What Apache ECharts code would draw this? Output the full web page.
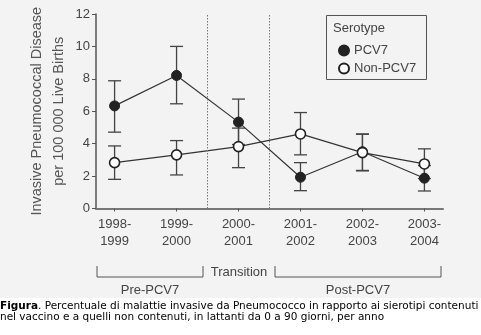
<!DOCTYPE html>
<html><head><meta charset="utf-8">
<script src="https://cdn.jsdelivr.net/npm/echarts@6/dist/echarts.min.js"></script>
<style>html,body{margin:0;padding:0;background:#f3f3f3}#c{width:481px;height:335px}</style>
</head><body><div id="c"></div>
<script>
// ---- data ----
const categories = ['1998-\n1999','1999-\n2000','2000-\n2001','2001-\n2002','2002-\n2003','2003-\n2004'];
const pcv7      = [6.33, 8.21, 5.33, 1.93, 3.50, 1.87];
const pcv7Low   = [4.71, 6.46, 3.95, 1.10, 2.35, 1.08];
const pcv7High  = [7.88, 10.0, 6.75, 2.83, 4.60, 2.65];
const nonPcv7     = [2.83, 3.31, 3.82, 4.60, 3.45, 2.75];
const nonPcv7Low  = [1.80, 2.07, 2.52, 3.31, 2.32, 1.85];
const nonPcv7High = [3.86, 4.19, 4.96, 5.92, 4.58, 3.68];
const yTicks = [0, 2, 4, 6, 8, 10, 12];
const phaseBoundaries = [1.5, 2.5];
const seriesNames = ['PCV7', 'Non-PCV7'];

const idx = categories.map((_, i) => i);
const pts = arr => arr.map((v, i) => [i, v]);
const bars = (lo, hi) => lo.map((v, i) => [i, v, hi[i]]);

function errRender(params, api) {
  const x = api.value(0), lo = api.value(1), hi = api.value(2);
  const a = api.coord([x, lo]), b = api.coord([x, hi]);
  const hw = 6.5;
  const st = {stroke: '#444', lineWidth: 1.3};
  return {type: 'group', children: [
    {type: 'line', shape: {x1: a[0], y1: a[1], x2: b[0], y2: b[1]}, style: st},
    {type: 'line', shape: {x1: a[0]-hw, y1: a[1], x2: a[0]+hw, y2: a[1]}, style: st},
    {type: 'line', shape: {x1: b[0]-hw, y1: b[1], x2: b[0]+hw, y2: b[1]}, style: st}
  ]};
}

const FONT = 'Liberation Sans';
const chart = echarts.init(document.getElementById('c'), null, {renderer: 'canvas'});
chart.setOption({
  backgroundColor: '#f3f3f3',
  animation: false,
  textStyle: {fontFamily: FONT},
  grid: {left: 96, right: 38, top: 14, bottom: 126.5, containLabel: false},
  xAxis: {
    type: 'value', min: -0.3, max: 5.3,
    axisLine: {onZero: false, lineStyle: {color: '#777', width: 2}},
    splitLine: {show: false},
    axisTick: {customValues: idx, length: 3, lineStyle: {color: '#555'}},
    axisLabel: {customValues: idx, formatter: v => categories[Math.round(v)],
      color: '#444', fontSize: 13, lineHeight: 17, margin: 7, fontFamily: FONT}
  },
  yAxis: {
    type: 'value', min: 0, max: 12, interval: 2,
    name: 'Invasive Pneumococcal Disease\nper 100 000 Live Births',
    nameLocation: 'middle', nameRotate: 90, nameGap: 26, nameMoveOverlap: false,
    nameTextStyle: {color: '#555', fontSize: 14.5, lineHeight: 22, fontFamily: FONT},
    axisLine: {show: true, onZero: false, lineStyle: {color: '#555', width: 1.5}},
    axisTick: {show: true, length: 4, lineStyle: {color: '#555'}},
    splitLine: {show: false},
    axisLabel: {color: '#444', fontSize: 13, margin: 6, fontFamily: FONT,
      formatter: v => yTicks.includes(v) ? String(v) : ''}
  },
  legend: {
    data: seriesNames, orient: 'vertical', left: 333, top: 39,
    icon: 'circle', itemWidth: 10, itemHeight: 10, itemGap: 5, itemTextGap: 8,
    textStyle: {color: '#444', fontSize: 13, fontFamily: FONT}
  },
  graphic: [
    {type: 'rect', left: 324, top: 13, shape: {width: 100, height: 64},
     style: {fill: 'none', stroke: '#555', lineWidth: 1}, z: 10},
    {type: 'text', left: 333, top: 22, style: {text: 'Serotype', fill: '#444', font: '13px "Liberation Sans"'}, z: 10},
    {type: 'polyline', shape: {points: [[97,266],[97,277],[203,277],[203,266]]}, style: {stroke: '#555', lineWidth: 1, fill: 'none'}},
    {type: 'polyline', shape: {points: [[275,266],[275,277],[441,277],[441,266]]}, style: {stroke: '#555', lineWidth: 1, fill: 'none'}},
    {type: 'text', x: 239, y: 272, style: {text: 'Transition', fill: '#444', font: '13px "Liberation Sans"', align: 'center', verticalAlign: 'middle'}},
    {type: 'text', x: 150, y: 290, style: {text: 'Pre-PCV7', fill: '#444', font: '13px "Liberation Sans"', align: 'center', verticalAlign: 'middle'}},
    {type: 'text', x: 358, y: 290, style: {text: 'Post-PCV7', fill: '#444', font: '13px "Liberation Sans"', align: 'center', verticalAlign: 'middle'}},
    {type: 'rect', left: 0, top: 298, shape: {width: 481, height: 37}, style: {fill: '#ffffff'}, z: -1},
    {type: 'text', left: 0, top: 301, style: {
      text: '{b|Figura}. Percentuale di malattie invasive da Pneumococco in rapporto ai sierotipi contenuti\nnel vaccino e a quelli non contenuti, in lattanti da 0 a 90 giorni, per anno',
      fill: '#000', font: '10.5px "DejaVu Sans"', lineHeight: 11,
      rich: {b: {fontWeight: 'bold', fontSize: 10.5, fontFamily: 'DejaVu Sans', fill: '#000', lineHeight: 11}}
    }}
  ],
  series: [
    {name: 'errPCV7', type: 'custom', renderItem: errRender, data: bars(pcv7Low, pcv7High), z: 1, silent: true},
    {name: 'errNon', type: 'custom', renderItem: errRender, data: bars(nonPcv7Low, nonPcv7High), z: 1, silent: true},
    {name: seriesNames[0], type: 'line', data: pts(pcv7), z: 3,
     symbol: 'circle', symbolSize: 10, showAllSymbol: true,
     lineStyle: {color: '#333', width: 1.2},
     itemStyle: {color: '#222', borderColor: '#222', borderWidth: 1},
     markLine: {silent: true, symbol: 'none', label: {show: false},
       lineStyle: {type: [1.5, 1.5], color: '#777', width: 1},
       data: phaseBoundaries.map(v => ({xAxis: v}))}},
    {name: seriesNames[1], type: 'line', data: pts(nonPcv7), z: 4,
     symbol: 'circle', symbolSize: 10, showAllSymbol: true,
     lineStyle: {color: '#333', width: 1.2},
     itemStyle: {color: '#ffffff', borderColor: '#222', borderWidth: 1.6}}
  ]
});
</script></body></html>
